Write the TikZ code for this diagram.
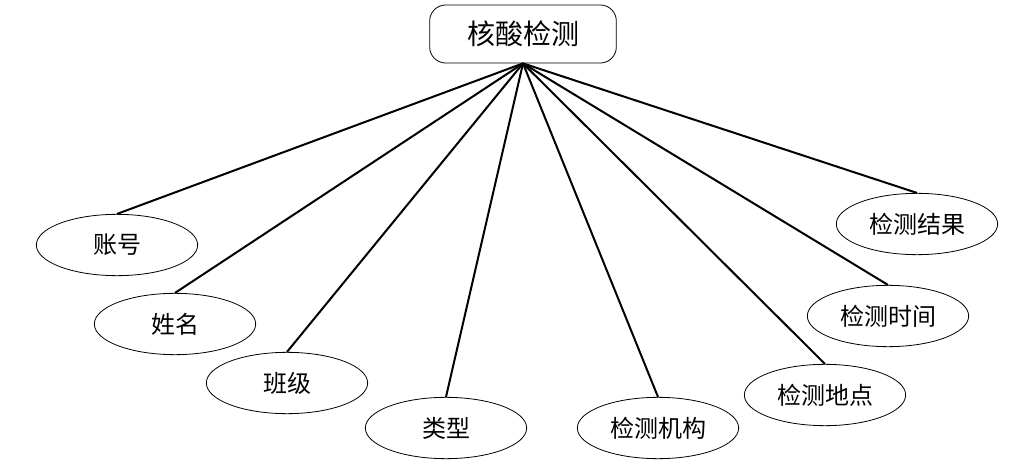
\documentclass[tikz,border=0pt]{standalone}
\usepackage{fontspec}
\newfontfamily\cjk{Noto Sans CJK SC}
\usetikzlibrary{shapes.geometric}
\begin{document}
\begin{tikzpicture}[x=0.75pt,y=-0.75pt,
  attr/.style={ellipse,draw,line width=0.6pt,minimum width=121pt,minimum height=46pt,inner sep=0pt,font=\cjk\fontsize{18}{21}\selectfont},
  topbox/.style={rectangle,rounded corners=12pt,draw,line width=0.6pt,minimum width=140pt,minimum height=43.5pt,inner sep=0pt,font=\cjk\fontsize{21}{24}\selectfont},
  link/.style={line width=1.5pt}]
\useasboundingbox (0,0) rectangle (1025,474);
\node[topbox] (root) at (523,34) {核酸检测};
\node[attr] (a1) at (117,245) {账号};
\node[attr] (a2) at (175,324) {姓名};
\node[attr] (a3) at (287,383) {班级};
\node[attr] (a4) at (446,428) {类型};
\node[attr] (a5) at (658,428) {检测机构};
\node[attr] (a6) at (825,395) {检测地点};
\node[attr] (a7) at (888,316) {检测时间};
\node[attr] (a8) at (917,224) {检测结果};
\foreach \n in {a1,a2,a3,a4,a5,a6,a7,a8}
  \draw[link] (root.south) -- (\n.north);
\end{tikzpicture}
\end{document}
